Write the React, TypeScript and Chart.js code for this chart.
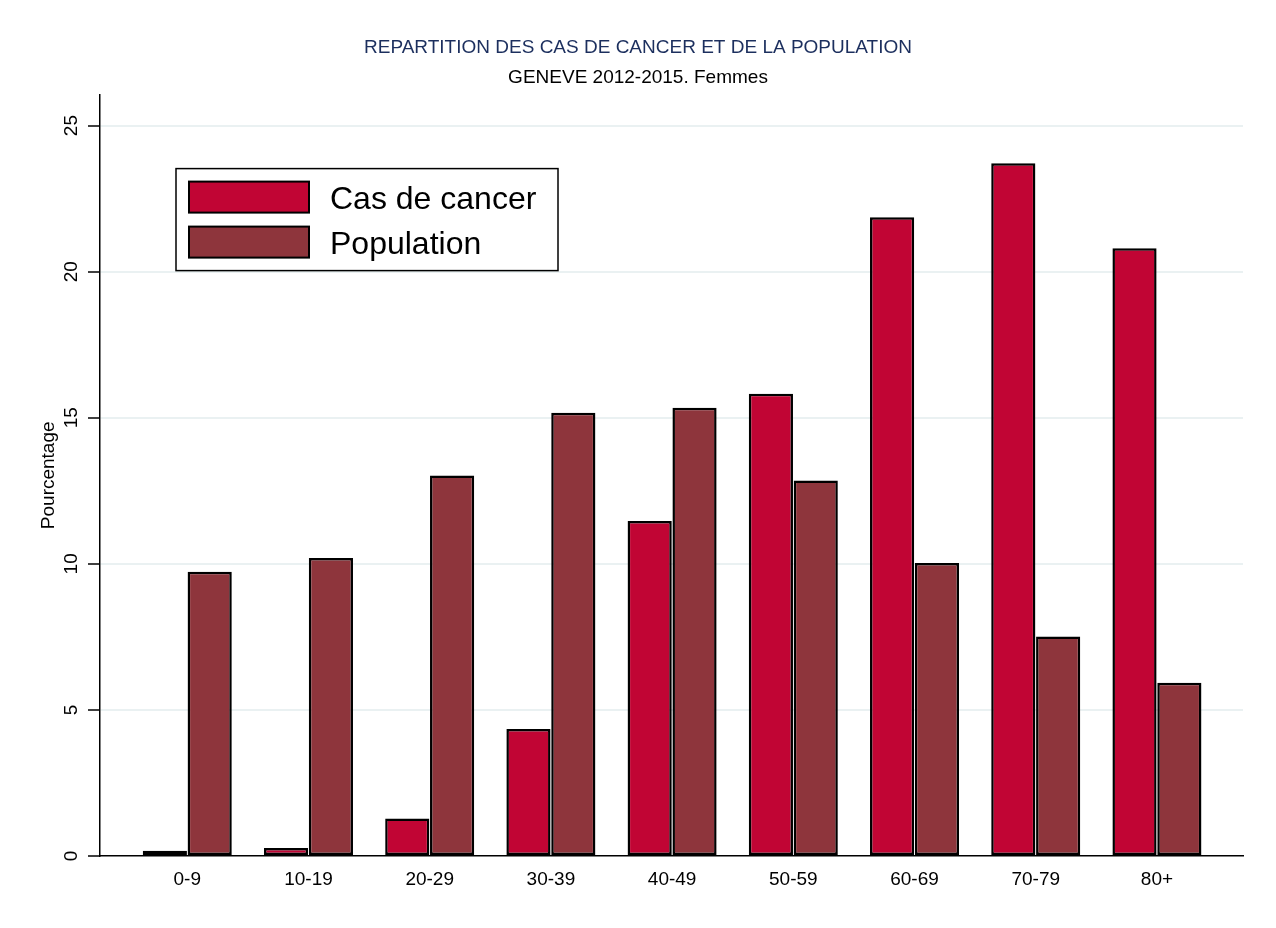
import React, { useEffect, useRef } from "react";
import { Chart, registerables } from "chart.js";

Chart.register(...registerables);

const categories = ["0-9", "10-19", "20-29", "30-39", "40-49", "50-59", "60-69", "70-79", "80+"];
const cancerValues = [0.18, 0.27, 1.28, 4.35, 11.47, 15.82, 21.86, 23.71, 20.8];
const populationValues = [9.73, 10.2, 13.02, 15.17, 15.34, 12.85, 10.03, 7.51, 5.93];
const yTicks = [0, 5, 10, 15, 20, 25];
const seriesLabels = ["Cas de cancer", "Population"];
const titleText = "REPARTITION DES CAS DE CANCER ET DE LA POPULATION";
const subtitleText = "GENEVE 2012-2015. Femmes";
const yTitle = "Pourcentage";

const FONT = "'Liberation Sans', Arial, Helvetica, sans-serif";

const yLabelPlugin = {
  id: "yLabels",
  afterDraw(chart: any) {
    const scale = chart.scales.y;
    const ctx = chart.ctx;
    ctx.save();
    ctx.fillStyle = "#000";
    ctx.font = `19px ${FONT}`;
    ctx.textAlign = "center";
    ctx.textBaseline = "middle";
    for (const t of scale.ticks) {
      const y = scale.getPixelForValue(t.value);
      ctx.save();
      ctx.translate(scale.right - 28, y);
      ctx.rotate(-Math.PI / 2);
      ctx.fillText(String(t.value), 0, 0);
      ctx.restore();
    }
    ctx.restore();
  },
};

const legendPlugin = {
  id: "boxLegend",
  afterDraw(chart: any) {
    const ctx = chart.ctx;
    const area = chart.chartArea;
    const bx = area.left + 76;
    const by = area.top + 74;
    const bw = 382;
    const bh = 102;
    ctx.save();
    ctx.fillStyle = "#fff";
    ctx.fillRect(bx, by, bw, bh);
    ctx.strokeStyle = "#000";
    ctx.lineWidth = 1.5;
    ctx.strokeRect(bx, by, bw, bh);
    chart.data.datasets.forEach((ds: any, i: number) => {
      const sx = bx + 13;
      const sy = by + 13 + i * 45;
      ctx.fillStyle = ds.backgroundColor;
      ctx.fillRect(sx, sy, 120, 31);
      ctx.strokeStyle = "#000";
      ctx.lineWidth = 2;
      ctx.strokeRect(sx, sy, 120, 31);
      ctx.fillStyle = "#000";
      ctx.font = `32px ${FONT}`;
      ctx.textAlign = "left";
      ctx.textBaseline = "middle";
      ctx.fillText(ds.label, bx + 154, sy + 18.5);
    });
    ctx.restore();
  },
};

export default function App() {
  const canvasRef = useRef<HTMLCanvasElement | null>(null);

  useEffect(() => {
    if (!canvasRef.current) return;
    Chart.defaults.font.family = FONT;
    const chart = new Chart(canvasRef.current, {
      type: "bar",
      data: {
        datasets: [
          {
            label: seriesLabels[0],
            data: categories.map((_, i) => ({ x: i, y: cancerValues[i] })),
            backgroundColor: "#c10534",
            borderColor: "#000",
            borderWidth: 2.5,
            borderSkipped: false,
            categoryPercentage: 0.74,
            barPercentage: 0.985,
          },
          {
            label: seriesLabels[1],
            data: categories.map((_, i) => ({ x: i, y: populationValues[i] })),
            backgroundColor: "#8e353c",
            borderColor: "#000",
            borderWidth: 2.5,
            borderSkipped: false,
            categoryPercentage: 0.74,
            barPercentage: 0.985,
          },
        ],
      },
      options: {
        animation: false,
        responsive: true,
        maintainAspectRatio: false,
        layout: { padding: 0 },
        plugins: {
          legend: { display: false },
          tooltip: { enabled: false },
          title: {
            display: true,
            text: titleText,
            color: "#1c2f5e",
            font: { size: 19, weight: "normal", family: FONT },
            padding: { top: 36, bottom: 8 },
          },
          subtitle: {
            display: true,
            text: subtitleText,
            color: "#000",
            font: { size: 19, weight: "normal", family: FONT },
            padding: { top: 0, bottom: 5 },
          },
        },
        scales: {
          x: {
            type: "linear",
            offset: false,
            min: -0.72,
            max: 8.71,
            afterBuildTicks: (s: any) => {
              s.ticks = categories.map((_, i) => ({ value: i }));
            },
            afterFit: (s: any) => {
              s.height = 72;
            },
            ticks: {
              autoSkip: false,
              maxRotation: 0,
              minRotation: 0,
              padding: 12,
              color: "#000",
              font: { size: 19, family: FONT },
              callback: (v: any) => categories[v] ?? "",
            },
            grid: { display: true, offset: false, drawOnChartArea: false, drawTicks: false },
            border: { display: true, color: "#000", width: 1.5 },
          },
          y: {
            type: "linear",
            min: 0,
            max: 26.06,
            afterBuildTicks: (s: any) => {
              s.ticks = yTicks.map((v) => ({ value: v }));
            },
            afterFit: (s: any) => {
              s.width = 100;
            },
            ticks: { display: false },
            grid: {
              color: (c: any) => (c.tick && c.tick.value === 0 ? "rgba(0,0,0,0)" : "#eaf1f2"),
              lineWidth: 2,
              tickColor: "#000",
              tickLength: 12,
              tickWidth: 1.5,
            },
            border: { display: true, color: "#000", width: 1.5 },
            title: {
              display: true,
              text: yTitle,
              color: "#000",
              font: { size: 19, family: FONT },
              padding: { top: 37, bottom: 0 },
            },
          },
          y2: {
            type: "linear",
            position: "right",
            display: true,
            afterFit: (s: any) => {
              s.width = 33;
            },
            ticks: { display: false },
            grid: { display: false },
            border: { display: false },
          },
        },
      } as any,
      plugins: [yLabelPlugin, legendPlugin],
    });
    return () => chart.destroy();
  }, []);

  return (
    <div style={{ position: "absolute", left: 0, top: 0, width: 1276, height: 928, background: "#fff" }}>
      <canvas ref={canvasRef} />
    </div>
  );
}
